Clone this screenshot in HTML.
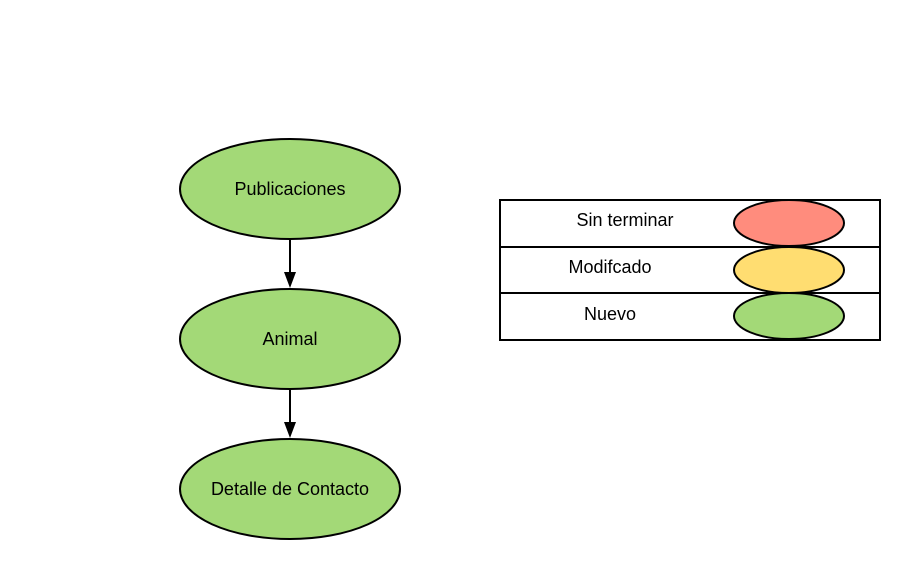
<!DOCTYPE html>
<html><head><meta charset="utf-8"><style>html,body{margin:0;padding:0;background:#fff}svg{display:block}</style></head>
<body>
<svg width="920" height="580" viewBox="0 0 920 580" xmlns="http://www.w3.org/2000/svg" font-family="Liberation Sans, sans-serif" font-size="18">
<g stroke="#000" stroke-width="2">
<ellipse cx="290" cy="189" rx="110" ry="50" fill="#a3d977"/>
<ellipse cx="290" cy="339" rx="110" ry="50" fill="#a3d977"/>
<ellipse cx="290" cy="489" rx="110" ry="50" fill="#a3d977"/>
<line x1="290" y1="240" x2="290" y2="274"/>
<line x1="290" y1="390" x2="290" y2="424"/>
<rect x="500" y="200" width="380" height="140" fill="#fff"/>
<line x1="500" y1="247" x2="880" y2="247"/>
<line x1="500" y1="293" x2="880" y2="293"/>
<ellipse cx="789" cy="223" rx="55" ry="23" fill="#ff8c7d"/>
<ellipse cx="789" cy="270" rx="55" ry="23" fill="#ffdd71"/>
<ellipse cx="789" cy="316" rx="55" ry="23" fill="#a3d977"/>
</g>
<polygon points="284,272 296,272 290,288" fill="#000"/>
<polygon points="284,422 296,422 290,438" fill="#000"/>
<g fill="#000" text-anchor="middle">
<text x="290" y="195">Publicaciones</text>
<text x="290" y="345">Animal</text>
<text x="290" y="495">Detalle de Contacto</text>
<text x="625" y="226">Sin terminar</text>
<text x="610" y="273">Modifcado</text>
<text x="610" y="320">Nuevo</text>
</g>
</svg>
</body></html>
